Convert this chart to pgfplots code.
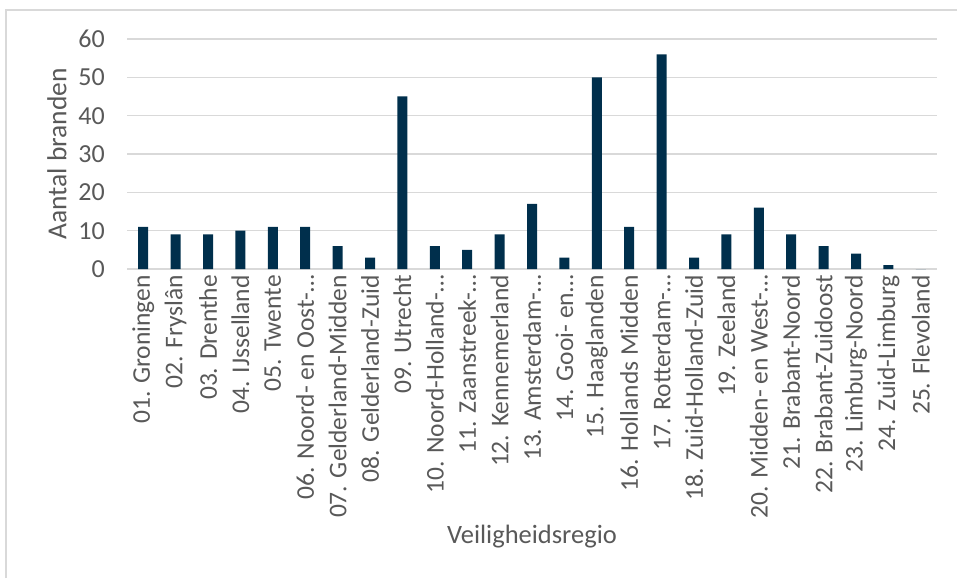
\documentclass[border=0pt]{standalone}
\usepackage{pgfplots}
\pgfplotsset{compat=1.18}
\usepackage{fontspec}
\setmainfont{Carlito}
\definecolor{barc}{HTML}{002F4C}
\definecolor{txt}{HTML}{595959}
\definecolor{gridc}{HTML}{D9D9D9}
\begin{document}
\begin{tikzpicture}
\useasboundingbox (0pt,0pt) rectangle (957pt,578pt);
\draw[gridc, line width=1.5pt] (6pt,0pt) -- (6pt,568pt) -- (957pt,568pt);
\begin{axis}[
  at={(127pt,309pt)}, anchor=south west,
  scale only axis, width=810pt, height=230pt,
  xmin=-0.5, xmax=24.5, ymin=0, ymax=60,
  ytick={0,10,...,60},
  xtick={0,...,24},
  xticklabels={01. Groningen,02. Fryslân,03. Drenthe,04. IJsselland,05. Twente,06. Noord- en Oost-…,07. Gelderland-Midden,08. Gelderland-Zuid,09. Utrecht,10. Noord-Holland-…,11. Zaanstreek-…,12. Kennemerland,13. Amsterdam-…,14. Gooi- en…,15. Haaglanden,16. Hollands Midden,17. Rotterdam-…,18. Zuid-Holland-Zuid,19. Zeeland,20. Midden- en West-…,21. Brabant-Noord,22. Brabant-Zuidoost,23. Limburg-Noord,24. Zuid-Limburg,25. Flevoland},
  x tick label style={rotate=90, anchor=east, font=\fontsize{25.5}{29}\selectfont, text=txt, inner sep=0pt},
  xticklabel shift=6pt,
  y tick label style={font=\fontsize{26}{30}\selectfont, text=txt, inner sep=0pt},
  yticklabel shift=22pt,
  /pgf/number format/assume math mode=true,
  major tick length=0pt,
  axis line style={draw=none},
  ymajorgrids, grid style={gridc, line width=1.5pt},
  ylabel={Aantal branden},
  ylabel style={at={(axis description cs:-0.0864,0.5)}, anchor=center, font=\fontsize{27.5}{31}\selectfont, text=txt},
  xlabel={Veiligheidsregio},
  xlabel style={at={(axis description cs:0.5,-1.165)}, anchor=center, font=\fontsize{26.5}{30}\selectfont, text=txt},
  clip=false,
]
\addplot[ybar, bar width=10pt, fill=barc, draw=none] coordinates {
(0,11) (1,9) (2,9) (3,10) (4,11) (5,11) (6,6) (7,3) (8,45) (9,6) (10,5) (11,9) (12,17) (13,3) (14,50) (15,11) (16,56) (17,3) (18,9) (19,16) (20,9) (21,6) (22,4) (23,1) (24,0)
};
\end{axis}
\end{tikzpicture}
\end{document}
